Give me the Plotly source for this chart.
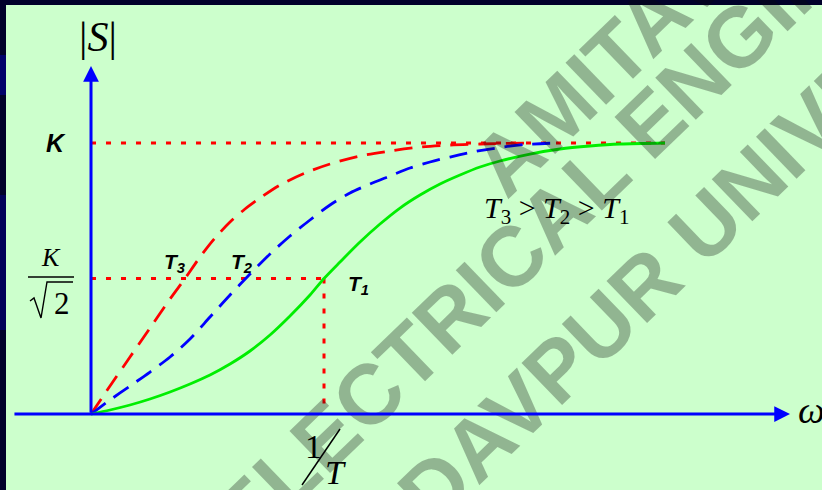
import plotly.graph_objects as go

# Frequency axis in units of 1/T, magnitude axis in units of K (schematic)
w_T3 = [0, 0.0815, 0.1674, 0.2532, 0.3391, 0.4034, 0.4678, 0.5322, 0.5966, 0.6609,
        0.7253, 0.8112, 0.9185, 1.0258, 1.1545, 1.2833, 1.4120, 1.5408, 1.6695, 1.8755]
S_T3 = [0, 0.1033, 0.2103, 0.3173, 0.4244, 0.5, 0.5793, 0.6494, 0.7085, 0.7565,
        0.7970, 0.8450, 0.8893, 0.9225, 0.9520, 0.9705, 0.9852, 0.9926, 0.9963, 1.0]

w_T2 = [0, 0.0815, 0.1674, 0.2532, 0.3391, 0.4249, 0.5107, 0.5966, 0.6824, 0.7682,
        0.8541, 0.9399, 1.0258, 1.1116, 1.1974, 1.2833, 1.3691, 1.4549, 1.5408, 1.6481,
        1.7554, 1.8627, 2.0]
S_T2 = [0, 0.0517, 0.1033, 0.1550, 0.2103, 0.2768, 0.3579, 0.4391, 0.5166, 0.5904,
        0.6568, 0.7159, 0.7712, 0.8155, 0.8487, 0.8782, 0.9077, 0.9299, 0.9483, 0.9686,
        0.9834, 0.9945, 1.0]

w_T1 = [0, 0.0815, 0.1674, 0.2532, 0.3391, 0.4249, 0.5107, 0.5966, 0.6824, 0.7682,
        0.8541, 0.9399, 1.0, 1.0687, 1.1545, 1.2403, 1.3262, 1.4120, 1.4979, 1.5837,
        1.6695, 1.7554, 1.8841, 2.0129, 2.1416, 2.2704, 2.4635]
S_T1 = [0, 0.0148, 0.0332, 0.0554, 0.0812, 0.1107, 0.1439, 0.1845, 0.2325, 0.2915,
        0.3616, 0.4391, 0.5, 0.5609, 0.6347, 0.7011, 0.7601, 0.8081, 0.8487, 0.8819,
        0.9114, 0.9336, 0.9594, 0.9779, 0.9889, 0.9963, 1.0]

# Reference levels (as drawn on the sketch)
K_LEVEL = 1.0
HALF_POWER_LEVEL = 0.5
CORNER_W = 1.0
K_LINE_END = 2.4635
X_AXIS_START, X_AXIS_TIP = -0.335, 3.0
Y_AXIS_TIP = 1.284

W, H = 822, 490
X_RANGE = [-0.3906, 3.1373]
Y_RANGE = [-0.2804, 1.5277]

GREEN_BG = "#ccffcc"
NAVY = "#00002a"
WATERMARK = "rgba(10,10,10,0.30)"
SERIF = "Liberation Serif"
SANS = "Liberation Sans"


def px(x):
    return x / W


def py(y):
    return 1 - y / H


fig = go.Figure()

curve_style = dict(mode="lines", line_shape="spline", hoverinfo="skip", showlegend=False)
fig.add_trace(go.Scatter(x=w_T3, y=S_T3, line=dict(color="#ff0000", width=2.8, dash="18px,10px",
                                                  smoothing=0.8), **curve_style))
fig.add_trace(go.Scatter(x=w_T2, y=S_T2, line=dict(color="#0000ff", width=2.8, dash="18px,10px",
                                                  smoothing=0.8), **curve_style))
fig.add_trace(go.Scatter(x=w_T1, y=S_T1, line=dict(color="#00ee00", width=2.8, smoothing=0.8),
                         **curve_style))

shapes = [
    # background panel and frame accents
    dict(type="rect", xref="paper", yref="paper", x0=px(6), x1=1, y0=0, y1=py(5),
         fillcolor=GREEN_BG, line_width=0, layer="below"),
    dict(type="rect", xref="paper", yref="paper", x0=0, x1=px(6), y0=py(95), y1=py(55),
         fillcolor="#00006a", line_width=0, layer="below"),
    dict(type="rect", xref="paper", yref="paper", x0=0, x1=px(6), y0=py(330), y1=py(195),
         fillcolor="#000058", line_width=0, layer="below"),
]

dot = dict(color="#ff0000", width=3, dash="5px,10px")
shapes += [
    dict(type="line", xref="x", yref="y", x0=0, x1=K_LINE_END, y0=K_LEVEL, y1=K_LEVEL,
         line=dot, layer="below"),
    dict(type="line", xref="x", yref="y", x0=0, x1=CORNER_W, y0=HALF_POWER_LEVEL,
         y1=HALF_POWER_LEVEL, line=dot, layer="below"),
    dict(type="line", xref="x", yref="y", x0=CORNER_W, x1=CORNER_W, y0=HALF_POWER_LEVEL, y1=0,
         line=dot, layer="below"),
]

# typographic strokes: fraction bar of K/sqrt(2), radical sign, slash of 1/T
shapes += [
    dict(type="line", xref="paper", yref="paper", x0=px(28), x1=px(74), y0=py(277), y1=py(277),
         line=dict(color="black", width=1.5)),
    dict(type="path", xref="paper", yref="paper",
         path=f"M{px(30)},{py(301)} L{px(34)},{py(298)} L{px(41)},{py(318)} "
              f"L{px(47)},{py(282)} L{px(73)},{py(282)}",
         line=dict(color="black", width=1.4)),
    dict(type="line", xref="paper", yref="paper", x0=px(302), x1=px(340), y0=py(485), y1=py(429),
         line=dict(color="black", width=1.5)),
]

annotations = []

# diagonal watermark
for text, cx, cy in [("AMITAVA", 619, 52),
                     ("ELECTRICAL ENGINEERING", 642, 130),
                     ("JADAVPUR UNIVERSITY", 692, 238)]:
    annotations.append(dict(text=f"<b>{text}</b>", x=px(cx), y=py(cy), xref="paper",
                            yref="paper", showarrow=False, textangle=-44,
                            xanchor="center", yanchor="middle",
                            font=dict(family=SANS, size=85, color=WATERMARK)))

# axes with arrow heads
annotations.append(dict(x=X_AXIS_TIP, y=0, ax=X_AXIS_START, ay=0, xref="x", yref="y",
                        axref="x", ayref="y", text="", showarrow=True, arrowhead=2,
                        arrowsize=1.05, arrowwidth=3, arrowcolor="#0000ff", standoff=0))
annotations.append(dict(x=0, y=Y_AXIS_TIP, ax=0, ay=0, xref="x", yref="y",
                        axref="x", ayref="y", text="", showarrow=True, arrowhead=2,
                        arrowsize=1.05, arrowwidth=3, arrowcolor="#0000ff", standoff=0))


def label(text, x, y, size, family=SERIF, xanchor="center", yanchor="middle", color="black"):
    annotations.append(dict(text=text, x=px(x), y=py(y), xref="paper", yref="paper",
                            showarrow=False, xanchor=xanchor, yanchor=yanchor,
                            font=dict(family=family, size=size, color=color)))


label("|<i>S</i>|", 98, 37, 42)
label("<b><i>K</i></b>", 56, 143, 25, family=SANS)
label("<i>K</i>", 51, 257, 26)
label("2", 62, 303, 31)
label("<i>ω</i>", 796, 410, 38, xanchor="left")
label("1", 313, 446, 34)
label("<i>T</i>", 335, 472, 34)
label("<b><i>T<sub>3</sub></i></b>", 162, 263, 21, family=SANS, xanchor="left")
label("<b><i>T<sub>2</sub></i></b>", 229, 263, 21, family=SANS, xanchor="left")
label("<b><i>T<sub>1</sub></i></b>", 346, 285, 21, family=SANS, xanchor="left")
label("<i>T</i><sub>3</sub> &gt; <i>T</i><sub>2</sub> &gt; <i>T</i><sub>1</sub>", 482, 210, 30,
      xanchor="left")

fig.update_layout(
    width=W, height=H, autosize=False,
    margin=dict(l=0, r=0, t=0, b=0, pad=0),
    paper_bgcolor=NAVY, plot_bgcolor="rgba(0,0,0,0)",
    xaxis=dict(range=X_RANGE, visible=False, fixedrange=True),
    yaxis=dict(range=Y_RANGE, visible=False, fixedrange=True),
    shapes=shapes, annotations=annotations,
)

fig.write_html("out.html")
